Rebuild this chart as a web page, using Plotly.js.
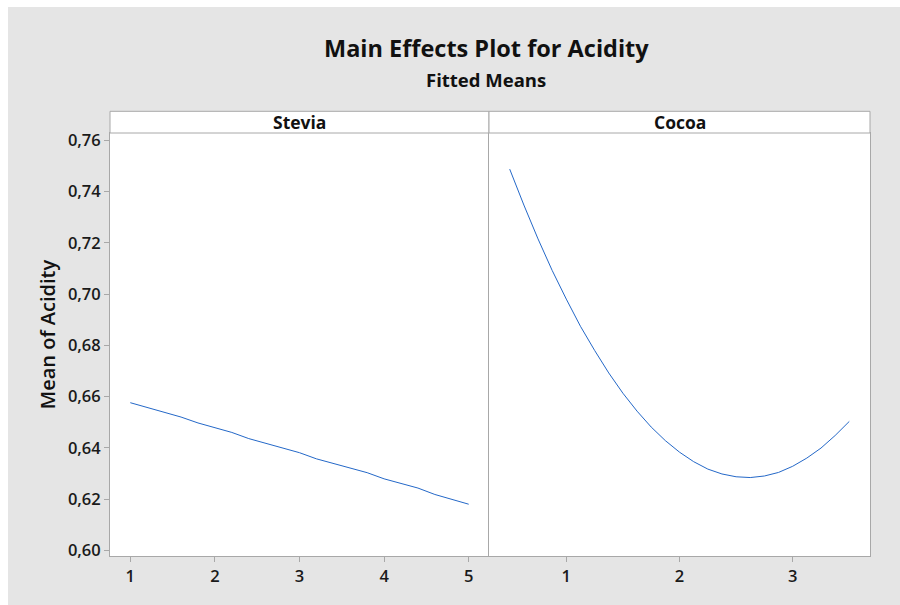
<!DOCTYPE html>
<html>
<head>
<meta charset="utf-8">
<script src="https://cdn.plot.ly/plotly-3.0.1.min.js"></script>
<style>
  html, body { margin: 0; padding: 0; background: #ffffff; width: 900px; height: 605px; overflow: hidden; }
  #chart { position: absolute; left: 8px; top: 7px; width: 892px; height: 598px; }
</style>
</head>
<body>
<div id="chart"></div>
<script>
// Data
const steviaX = [1.0, 1.2, 1.4, 1.6, 1.8, 2.0, 2.2, 2.4, 2.6, 2.8, 3.0, 3.2, 3.4, 3.6, 3.8, 4.0, 4.2, 4.4, 4.6, 4.8, 5.0];
const steviaY = [0.6576, 0.6557, 0.6538, 0.6520, 0.6497, 0.6479, 0.6460, 0.6436, 0.6418, 0.6400, 0.6381, 0.6357, 0.6339, 0.6321, 0.6303, 0.6279, 0.6262, 0.6243, 0.6218, 0.6199, 0.6180];
const cocoaX = [0.500, 0.625, 0.750, 0.875, 1.000, 1.125, 1.250, 1.375, 1.500, 1.625, 1.750, 1.875, 2.000,
                2.125, 2.250, 2.375, 2.500, 2.625, 2.750, 2.875, 3.000, 3.125, 3.250, 3.375, 3.500];
const cocoaY = [0.7487, 0.7347, 0.7215, 0.7092, 0.6980, 0.6874, 0.6780, 0.6692, 0.6613, 0.6543, 0.6481, 0.6428, 0.6383,
                0.6346, 0.6317, 0.6298, 0.6287, 0.6284, 0.6290, 0.6304, 0.6328, 0.6360, 0.6399, 0.6448, 0.6503];
const panelNames = ["Stevia", "Cocoa"];
const steviaTicks = [1, 2, 3, 4, 5];
const cocoaTicks = [1, 2, 3];
const yTicks = [0.60, 0.62, 0.64, 0.66, 0.68, 0.70, 0.72, 0.74, 0.76];
const titleText = "Main Effects Plot for Acidity";
const subtitleText = "Fitted Means";
const yTitleText = "Mean of Acidity";

const FONT = "Open Sans, Noto Sans, sans-serif";
const lineColor = "#2468c8";
const frameColor = "#a8a8a8";
const split = 379 / 760;
const stripH = 21.7 / 423;

const traces = [
  { x: steviaX, y: steviaY, xaxis: "x", yaxis: "y", type: "scatter", mode: "lines",
    line: { color: lineColor, width: 1 }, hoverinfo: "skip" },
  { x: cocoaX, y: cocoaY, xaxis: "x2", yaxis: "y2", type: "scatter", mode: "lines",
    line: { color: lineColor, width: 1 }, hoverinfo: "skip" }
];

const tickFont = { family: FONT, size: 16.5, color: "#1a1a1a", weight: 600 };
const axisCommon = {
  showgrid: false, zeroline: false, showline: true, mirror: true,
  linecolor: frameColor, linewidth: 1, ticks: "outside", ticklen: 5,
  tickcolor: frameColor, tickwidth: 1, tickfont: tickFont
};

const layout = {
  width: 892, height: 598,
  paper_bgcolor: "#e5e5e5", plot_bgcolor: "#ffffff",
  separators: ",.",
  showlegend: false,
  margin: { l: 102, r: 30, t: 126, b: 49 },
  xaxis: Object.assign({}, axisCommon, {
    domain: [0, split], range: [0.76, 5.24], tickvals: steviaTicks, ticktext: steviaTicks.map(String)
  }),
  xaxis2: Object.assign({}, axisCommon, {
    domain: [split, 1], range: [0.317, 3.683], tickvals: cocoaTicks, ticktext: cocoaTicks.map(String),
    anchor: "y2"
  }),
  yaxis: Object.assign({}, axisCommon, {
    domain: [0, 1], range: [0.5978, 0.7628], tickvals: yTicks, tickformat: ".2f", mirror: false
  }),
  yaxis2: Object.assign({}, axisCommon, {
    domain: [0, 1], range: [0.5978, 0.7628], matches: "y", anchor: "x2",
    showticklabels: false, ticks: ""
  }),
  shapes: [
    { type: "rect", xref: "paper", yref: "paper", x0: 0, x1: split, y0: 1, y1: 1 + stripH,
      fillcolor: "#ffffff", line: { color: frameColor, width: 1 } },
    { type: "rect", xref: "paper", yref: "paper", x0: split, x1: 1, y0: 1, y1: 1 + stripH,
      fillcolor: "#ffffff", line: { color: frameColor, width: 1 } }
  ],
  annotations: [
    { text: "<b>" + titleText + "</b>", xref: "paper", yref: "paper", x: 0.495, y: 1.200,
      xanchor: "center", yanchor: "middle", showarrow: false,
      font: { family: FONT, size: 23.5, color: "#111111" } },
    { text: "<b>" + subtitleText + "</b>", xref: "paper", yref: "paper", x: 0.495, y: 1.126,
      xanchor: "center", yanchor: "middle", showarrow: false,
      font: { family: FONT, size: 18.5, color: "#111111" } },
    { text: yTitleText, xref: "paper", yref: "paper", x: -0.083, y: 0.524, textangle: -90,
      xanchor: "center", yanchor: "middle", showarrow: false,
      font: { family: FONT, size: 20, color: "#111111", weight: 600 } },
    { text: panelNames[0], xref: "paper", yref: "paper", x: split / 2, y: 1 + stripH / 2,
      xanchor: "center", yanchor: "middle", showarrow: false,
      font: { family: FONT, size: 17.5, color: "#111111", weight: 700 } },
    { text: panelNames[1], xref: "paper", yref: "paper", x: (split + 1) / 2, y: 1 + stripH / 2,
      xanchor: "center", yanchor: "middle", showarrow: false,
      font: { family: FONT, size: 17.5, color: "#111111", weight: 700 } }
  ]
};

Plotly.newPlot("chart", traces, layout, { displayModeBar: false, staticPlot: true });
</script>
</body>
</html>
